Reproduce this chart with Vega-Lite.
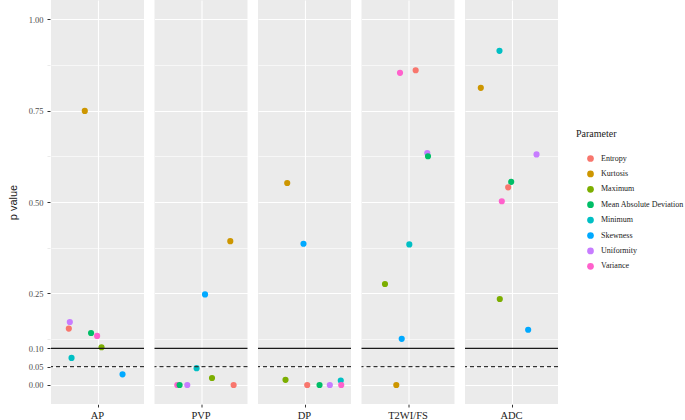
{
  "$schema": "https://vega.github.io/schema/vega-lite/v6.json",
  "padding": {"left": 7, "top": 0, "right": 0, "bottom": 0},
  "background": "white",
  "data": {"values": [
    {"phase": "AP", "param": "Kurtosis", "p": 0.749, "jitter": -0.164},
    {"phase": "AP", "param": "Uniformity", "p": 0.172, "jitter": -0.357},
    {"phase": "AP", "param": "Entropy", "p": 0.154, "jitter": -0.37},
    {"phase": "AP", "param": "Mean Absolute Deviation", "p": 0.142, "jitter": -0.083},
    {"phase": "AP", "param": "Variance", "p": 0.134, "jitter": -0.005},
    {"phase": "AP", "param": "Maximum", "p": 0.103, "jitter": 0.052},
    {"phase": "AP", "param": "Minimum", "p": 0.074, "jitter": -0.335},
    {"phase": "AP", "param": "Skewness", "p": 0.029, "jitter": 0.323},
    {"phase": "PVP", "param": "Skewness", "p": 0.2475, "jitter": 0.052},
    {"phase": "PVP", "param": "Minimum", "p": 0.046, "jitter": -0.057},
    {"phase": "PVP", "param": "Maximum", "p": 0.019, "jitter": 0.142},
    {"phase": "PVP", "param": "Variance", "p": 0.0, "jitter": -0.306},
    {"phase": "PVP", "param": "Mean Absolute Deviation", "p": 0.0, "jitter": -0.276},
    {"phase": "PVP", "param": "Uniformity", "p": 0.0, "jitter": -0.177},
    {"phase": "PVP", "param": "Entropy", "p": 0.0, "jitter": 0.421},
    {"phase": "PVP", "param": "Kurtosis", "p": 0.393, "jitter": 0.378},
    {"phase": "DP", "param": "Kurtosis", "p": 0.552, "jitter": -0.223},
    {"phase": "DP", "param": "Skewness", "p": 0.386, "jitter": -0.013},
    {"phase": "DP", "param": "Maximum", "p": 0.014, "jitter": -0.245},
    {"phase": "DP", "param": "Entropy", "p": 0.0, "jitter": 0.035},
    {"phase": "DP", "param": "Mean Absolute Deviation", "p": 0.0, "jitter": 0.194},
    {"phase": "DP", "param": "Uniformity", "p": 0.0, "jitter": 0.327},
    {"phase": "DP", "param": "Minimum", "p": 0.012, "jitter": 0.468},
    {"phase": "DP", "param": "Variance", "p": 0.0, "jitter": 0.474},
    {"phase": "T2WI/FS", "param": "Variance", "p": 0.853, "jitter": -0.103},
    {"phase": "T2WI/FS", "param": "Entropy", "p": 0.86, "jitter": 0.099},
    {"phase": "T2WI/FS", "param": "Uniformity", "p": 0.634, "jitter": 0.249},
    {"phase": "T2WI/FS", "param": "Mean Absolute Deviation", "p": 0.625, "jitter": 0.258},
    {"phase": "T2WI/FS", "param": "Minimum", "p": 0.384, "jitter": 0.017},
    {"phase": "T2WI/FS", "param": "Maximum", "p": 0.276, "jitter": -0.297},
    {"phase": "T2WI/FS", "param": "Skewness", "p": 0.126, "jitter": -0.081},
    {"phase": "T2WI/FS", "param": "Kurtosis", "p": 0.0, "jitter": -0.151},
    {"phase": "ADC", "param": "Minimum", "p": 0.913, "jitter": -0.155},
    {"phase": "ADC", "param": "Kurtosis", "p": 0.812, "jitter": -0.396},
    {"phase": "ADC", "param": "Uniformity", "p": 0.63, "jitter": 0.323},
    {"phase": "ADC", "param": "Mean Absolute Deviation", "p": 0.555, "jitter": -0.004},
    {"phase": "ADC", "param": "Entropy", "p": 0.54, "jitter": -0.043},
    {"phase": "ADC", "param": "Variance", "p": 0.502, "jitter": -0.125},
    {"phase": "ADC", "param": "Maximum", "p": 0.235, "jitter": -0.151},
    {"phase": "ADC", "param": "Skewness", "p": 0.151, "jitter": 0.215}
  ]},
  "facet": {
    "column": {
      "field": "phase",
      "type": "nominal",
      "sort": ["AP", "PVP", "DP", "T2WI/FS", "ADC"],
      "header": {
        "title": null,
        "labelOrient": "bottom",
        "labelFont": "Liberation Serif",
        "labelFontSize": 10.5,
        "labelColor": "#1a1a1a",
        "labelPadding": 3
      }
    }
  },
  "spacing": 8.5,
  "spec": {
    "width": 93,
    "height": 404,
    "layer": [
      {
        "mark": {"type": "circle", "size": 38, "opacity": 1},
        "encoding": {
          "x": {
            "field": "jitter", "type": "quantitative",
            "scale": {"domain": [-0.6, 0.6], "nice": false, "zero": false},
            "axis": {"values": [0], "labels": false, "domain": false, "ticks": true, "tickSize": 3, "tickColor": "#333333", "grid": true, "gridColor": "white", "gridWidth": 1.1, "title": null}
          },
          "y": {
            "field": "p", "type": "quantitative",
            "scale": {"domain": [-0.052, 1.052], "nice": false, "zero": false},
            "axis": {
              "title": "p value",
              "titleFont": "Liberation Sans",
              "titleFontSize": 11,
              "titleFontWeight": "normal",
              "titleColor": "#1a1a1a",
              "titlePadding": 10,
              "values": [0, 0.05, 0.1, 0.125, 0.25, 0.375, 0.5, 0.625, 0.75, 0.875, 1],
              "labelExpr": "indexof([0, 0.05, 0.1, 0.25, 0.5, 0.75, 1], datum.value) >= 0 ? format(datum.value, '.2f') : ''",
              "labelFont": "Liberation Serif",
              "labelFontSize": 8.5,
              "labelColor": "#4d4d4d",
              "labelPadding": 4,
              "domain": false,
              "tickSize": 3,
              "tickColor": {"condition": {"test": "indexof([0, 0.05, 0.1, 0.25, 0.5, 0.75, 1], datum.value) >= 0", "value": "#333333"}, "value": "#EBEBEB"},
              "grid": true,
              "gridColor": "white",
              "gridWidth": {"condition": {"test": "indexof([0, 0.05, 0.1, 0.25, 0.5, 0.75, 1], datum.value) >= 0", "value": 1.2}, "value": 0.6}
            }
          },
          "color": {
            "field": "param", "type": "nominal",
            "scale": {
              "domain": ["Entropy", "Kurtosis", "Maximum", "Mean Absolute Deviation", "Minimum", "Skewness", "Uniformity", "Variance"],
              "range": ["#F8766D", "#CD9600", "#7CAE00", "#00BE67", "#00BFC4", "#00A9FF", "#C77CFF", "#FF61CC"]
            },
            "legend": {
              "title": "Parameter",
              "orient": "none",
              "legendX": 525,
              "legendY": 129,
              "titleFont": "Liberation Serif",
              "titleFontSize": 10,
              "titleFontWeight": "normal",
              "titleColor": "#1a1a1a",
              "titlePadding": 15,
              "labelFont": "Liberation Serif",
              "labelFontSize": 8,
              "labelColor": "#1a1a1a",
              "symbolType": "circle",
              "symbolSize": 45,
              "symbolOpacity": 1,
              "symbolOffset": 10,
              "rowPadding": 6.4,
              "labelOffset": 6,
              "padding": 0
            }
          }
        }
      },
      {
        "transform": [{"filter": "datum.param == 'Entropy'"}],
        "mark": {"type": "rule", "color": "#1a1a1a", "strokeWidth": 1.2},
        "encoding": {"y": {"datum": 0.1}}
      },
      {
        "transform": [{"filter": "datum.param == 'Entropy'"}],
        "mark": {"type": "rule", "color": "#333333", "strokeWidth": 1.2, "strokeDash": [4, 3]},
        "encoding": {"y": {"datum": 0.05}}
      }
    ]
  },
  "config": {
    "view": {"fill": "#EBEBEB", "stroke": null},
    "axis": {"labelFlush": false}
  }
}
